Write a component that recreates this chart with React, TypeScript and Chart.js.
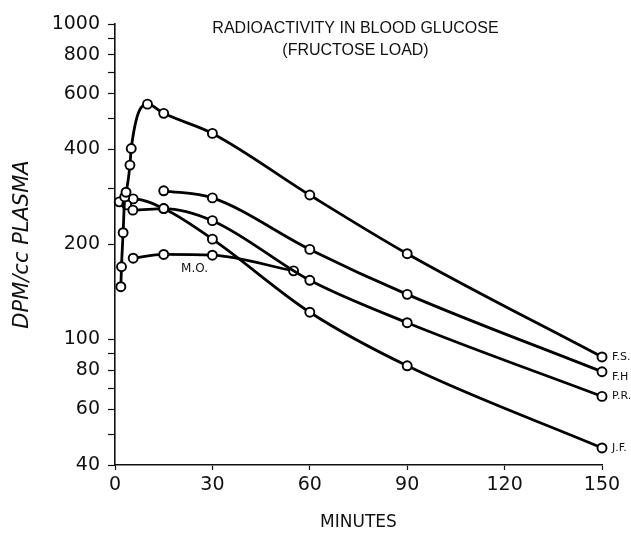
import React, { useEffect, useRef } from "react";
import { Chart, registerables } from "chart.js";

Chart.register(...registerables);

// ---- data (minutes, DPM/cc plasma) ----
const FS_X = [1.8, 2, 2.5, 3, 3.4, 4.6, 5, 10, 15, 30, 60, 90, 150];
const FS_Y = [147, 170, 218, 283, 293, 357, 403, 557, 521, 450, 287, 187, 88];

const FH_X = [15, 30, 60, 90, 150];
const FH_Y = [296, 281, 193, 139, 79];

const PR_X = [3.6, 5.5, 15, 30, 60, 90, 150];
const PR_Y = [267, 257, 260, 238, 154, 113, 66];

const JF_X = [1.3, 5.6, 15, 30, 60, 90, 150];
const JF_Y = [273, 279, 260, 208, 122, 82.5, 45.3];

const MO_X = [5.6, 15, 30, 55];
const MO_Y = [181, 186, 185, 165];

const SERIES_NAMES = ["F.S.", "F.H", "P.R.", "J.F.", "M.O."];

const X_TICKS = [0, 30, 60, 90, 120, 150];
const Y_TICKS = [40, 50, 60, 70, 80, 90, 100, 200, 300, 400, 500, 600, 700, 800, 900, 1000];
const Y_LABELED = [40, 60, 80, 100, 200, 400, 600, 800, 1000];

const TITLE_LINES = ["RADIOACTIVITY IN BLOOD GLUCOSE", "(FRUCTOSE LOAD)"];
const X_TITLE = "MINUTES";
const Y_TITLE = "DPM/cc PLASMA";
const MO_LABEL_AT = { x: 24.5, y: 168 };

const INK = "#111";
const FONT = '"DejaVu Sans", sans-serif';

const series = [
  { name: SERIES_NAMES[0], xs: FS_X, ys: FS_Y, dy: 0, end: true },
  { name: SERIES_NAMES[1], xs: FH_X, ys: FH_Y, dy: 5, end: true },
  { name: SERIES_NAMES[2], xs: PR_X, ys: PR_Y, dy: 0, end: true },
  { name: SERIES_NAMES[3], xs: JF_X, ys: JF_Y, dy: 0, end: true },
  { name: SERIES_NAMES[4], xs: MO_X, ys: MO_Y, dy: 0, end: false },
];

const annotPlugin = {
  id: "annot",
  afterDatasetsDraw(chart: any) {
    const { ctx, chartArea, scales } = chart;
    ctx.save();
    ctx.fillStyle = INK;
    ctx.textBaseline = "middle";
    ctx.textAlign = "center";
    ctx.font = '16px "Liberation Sans", sans-serif';
    const cx = (chartArea.left + chartArea.right) / 2 - 3;
    ctx.fillText(TITLE_LINES[0], cx, chartArea.top + 5);
    ctx.fillText(TITLE_LINES[1], cx, chartArea.top + 27);

    ctx.textAlign = "left";
    ctx.font = "11px " + FONT;
    series.forEach((s) => {
      if (!s.end) return;
      const n = s.xs.length - 1;
      const px = scales.x.getPixelForValue(s.xs[n]);
      const py = scales.y.getPixelForValue(s.ys[n]);
      ctx.fillText(s.name, px + 10, py + s.dy);
    });
    ctx.textAlign = "center";
    ctx.font = "12px " + FONT;
    ctx.fillText(
      SERIES_NAMES[4],
      scales.x.getPixelForValue(MO_LABEL_AT.x),
      scales.y.getPixelForValue(MO_LABEL_AT.y)
    );
    ctx.restore();
  },
};

export default function App() {
  const ref = useRef<HTMLCanvasElement | null>(null);

  useEffect(() => {
    if (!ref.current) return;
    const datasets = series.map((s) => ({
      label: s.name,
      data: s.xs.map((x, i) => ({ x, y: s.ys[i] })),
      borderColor: "#000",
      borderWidth: 2.8,
      pointRadius: 4.5,
      pointBackgroundColor: "#fff",
      pointBorderColor: "#000",
      pointBorderWidth: 1.9,
      cubicInterpolationMode: "monotone" as const,
      fill: false,
      clip: false as any,
    }));

    const chart = new Chart(ref.current, {
      type: "line",
      data: { datasets },
      options: {
        animation: false,
        responsive: false,
        events: [],
        layout: { padding: { top: 24, right: 29, left: 0, bottom: 0 } },
        plugins: {
          legend: { display: false },
          tooltip: { enabled: false },
        },
        scales: {
          x: {
            type: "linear",
            position: "bottom",
            min: 0,
            max: 150,
            afterBuildTicks: (s: any) => {
              s.ticks = X_TICKS.map((v) => ({ value: v }));
            },
            ticks: {
              color: INK,
              font: { family: FONT, size: 19 },
              padding: 4,
              maxRotation: 0,
              autoSkip: false,
            },
            grid: {
              drawOnChartArea: false,
              tickLength: 5,
              color: INK,
              tickWidth: 1.2,
            },
            border: { color: INK, width: 1.6 },
            title: {
              display: true,
              text: X_TITLE,
              color: INK,
              font: { family: FONT, size: 17 },
              padding: { top: 0, bottom: 3 },
            },
            afterFit: (s: any) => {
              s.height = 71;
            },
          },
          y: {
            type: "logarithmic",
            min: 40,
            max: 1000,
            afterBuildTicks: (s: any) => {
              s.ticks = Y_TICKS.map((v) => ({ value: v }));
            },
            ticks: {
              color: INK,
              font: { family: FONT, size: 19 },
              padding: 8,
              autoSkip: false,
              callback: (v: any) => (Y_LABELED.includes(Number(v)) ? String(v) : ""),
            },
            grid: {
              drawOnChartArea: false,
              tickLength: 7,
              color: INK,
              tickWidth: 1.2,
            },
            border: { color: INK, width: 1.6 },
            title: {
              display: true,
              text: Y_TITLE,
              color: INK,
              font: { family: FONT, size: 21, style: "italic" },
              padding: { top: 10, bottom: 0 },
            },
            afterFit: (s: any) => {
              s.width = 115;
            },
          },
        },
      },
      plugins: [annotPlugin],
    });
    return () => chart.destroy();
  }, []);

  return (
    <div style={{ position: "fixed", left: 0, top: 0, width: 631, height: 536, background: "#fff" }}>
      <canvas ref={ref} width={631} height={536} style={{ display: "block" }} />
    </div>
  );
}
